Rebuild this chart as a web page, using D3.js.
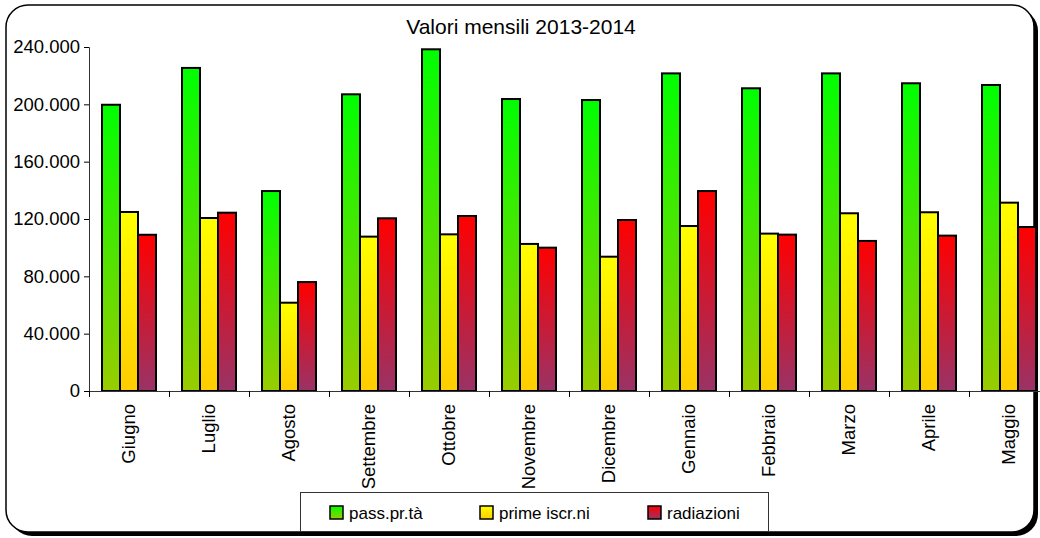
<!DOCTYPE html>
<html lang="it">
<head>
<meta charset="UTF-8">
<title>Valori mensili 2013-2014</title>
<script src="https://d3js.org/d3.v7.min.js"></script>
<style>
    body { margin: 0; background: #fff; }
    svg { display: block; font-family: "Liberation Sans", Arial, sans-serif; }
</style>
</head>
<body>
<div id="chart"></div>
<script>
    // months on the x axis
    var months = ['Giugno', 'Luglio', 'Agosto', 'Settembre', 'Ottobre', 'Novembre',
                  'Dicembre', 'Gennaio', 'Febbraio', 'Marzo', 'Aprile', 'Maggio'];
    var seriesNames = ['pass.pr.tà', 'prime iscr.ni', 'radiazioni'];
    var passPrTa   = [199700, 225400, 139500, 207000, 238400, 203700, 203000, 221600, 211200, 221600, 214700, 213500];
    var primeIscr  = [124900, 120700,  61600, 107700, 109300, 102600,  93700, 115100, 109800, 124000, 124700, 131400];
    var radiazioni = [109000, 124400,  76000, 120500, 122100, 100000, 119300, 139500, 109100, 104700, 108400, 114400];
    var yTicks = [0, 40000, 80000, 120000, 160000, 200000, 240000];

    var seriesData = [passPrTa, primeIscr, radiazioni];
    // gradient colours: top, bottom
    var grad = [['#00ff00', '#99cc00'], ['#ffff00', '#ffcc00'], ['#ff0000', '#993366']];

    var W = 1040, H = 538;
    var svg = d3.select('#chart').append('svg').attr('width', W).attr('height', H);

    var defs = svg.append('defs');
    grad.forEach(function(g, i) {
        var lg = defs.append('linearGradient').attr('id', 'g' + i)
            .attr('x1', 0).attr('y1', 0).attr('x2', 0).attr('y2', 1);
        lg.append('stop').attr('offset', '0%').attr('stop-color', g[0]);
        lg.append('stop').attr('offset', '100%').attr('stop-color', g[1]);
    });

    // frame with shadow
    svg.append('rect').attr('x', 10).attr('y', 9).attr('width', 1028).attr('height', 527)
        .attr('rx', 22).attr('fill', '#000');
    svg.append('rect').attr('x', 6).attr('y', 5).attr('width', 1028).attr('height', 527)
        .attr('rx', 22).attr('fill', '#fff').attr('stroke', '#000').attr('stroke-width', 1.5);

    svg.append('text').attr('x', 521).attr('y', 34).attr('text-anchor', 'middle')
        .style('font-size', '21px').text('Valori mensili 2013-2014');

    var plotL = 89, plotT = 47, plotB = 391, plotR = 1049;

    var x = d3.scaleBand().domain(months).range([plotL, plotR]).padding(0);
    var xs = d3.scaleBand().domain(seriesNames).range([13, 67]).padding(0);
    var y = d3.scaleLinear().domain([0, 240000]).range([plotB, plotT]);

    var it = d3.formatLocale({ decimal: ',', thousands: '.', grouping: [3], currency: ['€', ''] });
    var fmt = it.format(',d');

    // y axis
    var yAxis = svg.append('g').attr('transform', 'translate(' + plotL + ',0)')
        .call(d3.axisLeft(y).tickValues(yTicks).tickFormat(fmt).tickSize(5).tickPadding(4));
    yAxis.selectAll('text').style('font-size', '18.5px').attr('fill', '#000');
    yAxis.select('.domain').attr('stroke', '#333');

    // bars
    seriesData.forEach(function(vals, si) {
        svg.append('g').selectAll('rect')
            .data(vals)
            .enter().append('rect')
            .attr('x', (d, i) => x(months[i]) + xs(seriesNames[si]))
            .attr('y', d => y(d))
            .attr('width', xs.bandwidth())
            .attr('height', d => plotB - y(d))
            .attr('fill', 'url(#g' + si + ')')
            .attr('stroke', '#000')
            .attr('stroke-width', 2);
    });

    // x axis with ticks at category boundaries
    var xb = d3.scaleLinear().domain([0, months.length]).range([plotL, plotR]);
    var xAxis = svg.append('g').attr('transform', 'translate(0,' + plotB + ')')
        .call(d3.axisBottom(xb).tickValues(d3.range(0, months.length + 1))
            .tickFormat('').tickSize(6).tickSizeOuter(0));
    xAxis.select('.domain').attr('stroke', '#333');

    svg.append('g').selectAll('text')
        .data(months)
        .enter().append('text')
        .attr('transform', d => 'translate(' + (x(d) + x.bandwidth() / 2) + ',404) rotate(-90)')
        .attr('text-anchor', 'end')
        .attr('dy', '0.35em')
        .style('font-size', '18.5px')
        .text(d => d);

    // legend
    var lg = svg.append('g');
    lg.append('rect').attr('x', 300.5).attr('y', 492.5).attr('width', 468).attr('height', 39)
        .attr('fill', '#fff').attr('stroke', '#333');
    var legX = [330, 480, 648];
    seriesNames.forEach(function(n, i) {
        lg.append('rect').attr('x', legX[i]).attr('y', 506).attr('width', 13).attr('height', 13)
            .attr('fill', 'url(#g' + i + ')').attr('stroke', '#000').attr('stroke-width', 1.5);
        lg.append('text').attr('x', legX[i] + 19).attr('y', 519)
            .style('font-size', '17px').text(n);
    });
</script>
</body>
</html>
